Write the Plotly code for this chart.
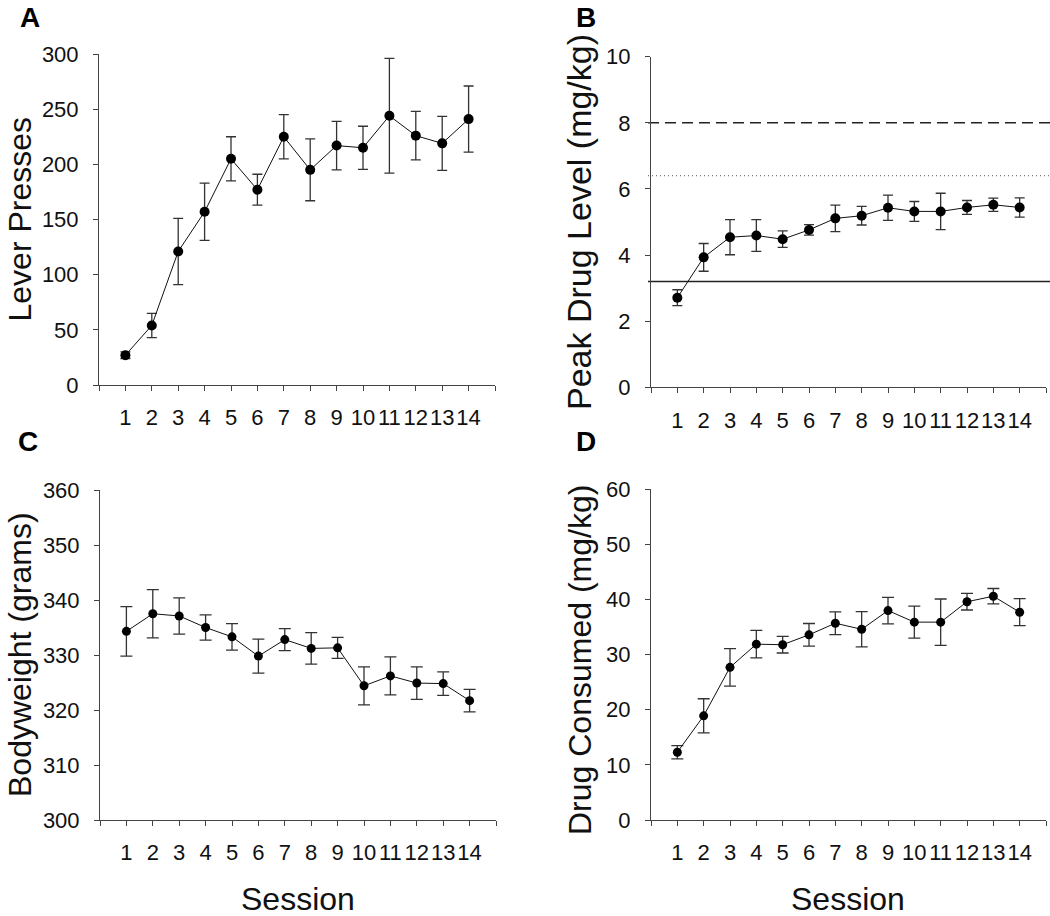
import plotly.graph_objects as go

sessions = list(range(1, 15))
tick_labels = [str(s) for s in sessions]

lever_presses = [27, 54, 121, 157, 205, 177, 225, 195, 217, 215, 244, 226, 219, 241]
lever_err = [3, 11, 30, 26, 20, 14, 20, 28, 22, 19.5, 52, 22, 24.5, 30]

peak_drug = [2.71, 3.93, 4.54, 4.59, 4.48, 4.76, 5.11, 5.19, 5.43, 5.32, 5.32, 5.44, 5.52, 5.44]
peak_err = [0.24, 0.42, 0.53, 0.48, 0.25, 0.16, 0.40, 0.28, 0.38, 0.30, 0.55, 0.21, 0.20, 0.29]
ref_dashed = 8.0
ref_dotted = 6.4
ref_solid = 3.2

bodyweight = [334.3, 337.5, 337.1, 335.0, 333.3, 329.8, 332.8, 331.2, 331.3, 324.4, 326.2, 324.9, 324.8, 321.7]
body_err = [4.5, 4.4, 3.3, 2.3, 2.4, 3.1, 2.0, 2.85, 1.9, 3.45, 3.45, 2.95, 2.15, 2.05]

drug_consumed = [12.3, 18.9, 27.7, 31.9, 31.8, 33.6, 35.7, 34.6, 38.0, 35.9, 35.9, 39.6, 40.6, 37.7]
drug_err = [1.2, 3.1, 3.4, 2.5, 1.5, 2.05, 2.05, 3.2, 2.4, 2.9, 4.2, 1.5, 1.4, 2.45]

W, H = 1050, 916
TICKFONT = dict(family="Liberation Sans Narrow, Arial Narrow, Liberation Sans, Arial", size=22, color="#111")
TITLEFONT = dict(family="Liberation Sans, Arial", size=32, color="#111")
AXCOL = "#444"

def px_x(p):
    return p / W

def px_y(p):
    return 1 - p / H

panels = [
    ("x", "y", (99, 495), (54, 385), [0, 300], 50, lever_presses, lever_err, 10, 5),
    ("x2", "y2", (651, 1046), (56.7, 387.3), [0, 10], 2, peak_drug, peak_err, 10, 5),
    ("x3", "y3", (100, 496), (490, 820), [300, 360], 10, bodyweight, body_err, 9, 6),
    ("x4", "y4", (651, 1046), (489.3, 820), [0, 60], 10, drug_consumed, drug_err, 9, 6),
]

fig = go.Figure()
layout = dict(
    width=W, height=H,
    margin=dict(l=0, r=0, t=0, b=0, autoexpand=False),
    paper_bgcolor="white", plot_bgcolor="white",
    showlegend=False,
)

for xa, ya, xp, yp, yr, dt, yv, ev, msize, capw in panels:
    fig.add_trace(go.Scatter(
        x=sessions, y=yv, xaxis=xa, yaxis=ya,
        mode="lines+markers",
        line=dict(color="#111", width=1),
        marker=dict(color="black", size=msize, symbol="circle"),
        error_y=dict(type="data", array=ev, visible=True, color="#333",
                     thickness=1.3, width=capw),
        cliponaxis=False,
    ))
    xkey = "xaxis" + xa[1:]
    ykey = "yaxis" + ya[1:]
    layout[xkey] = dict(
        domain=[px_x(xp[0]), px_x(xp[1])],
        anchor=ya,
        range=[0, 15],
        tickmode="array",
        tickvals=list(range(0, 16)),
        ticktext=[""] + tick_labels + [""],
        tickangle=0,
        ticks="outside", ticklen=5, tickwidth=1, tickcolor=AXCOL,
        showline=True, linecolor=AXCOL, linewidth=1,
        showgrid=False, zeroline=False,
        tickfont=TICKFONT,
        ticklabelstandoff=8,
        automargin=False,
        fixedrange=True,
    )
    layout[ykey] = dict(
        domain=[px_y(yp[1]), px_y(yp[0])],
        anchor=xa,
        range=yr,
        tickmode="linear", tick0=yr[0], dtick=dt,
        ticks="outside", ticklen=5, tickwidth=1, tickcolor=AXCOL,
        showline=True, linecolor=AXCOL, linewidth=1,
        showgrid=False, zeroline=False,
        tickfont=TICKFONT,
        ticklabelstandoff=10,
        automargin=False,
        fixedrange=True,
    )

fig.update_layout(**layout)

# Reference lines in panel B
for val, dash, col, wd in [(ref_dashed, "11px,6px", "#222", 1.5),
                           (ref_dotted, "1px,3px", "#777", 1.2),
                           (ref_solid, "solid", "#222", 1.6)]:
    fig.add_shape(type="line", xref="paper", yref="y2",
                  x0=px_x(648), x1=1.0, y0=val, y1=val,
                  line=dict(color=col, width=wd, dash=dash), layer="below")

# Axis titles (y)
ytitles = [
    ("Lever Presses", 19, 219.5, 32),
    ("Peak Drug Level (mg/kg)", 579, 222, 34),
    ("Bodyweight (grams)", 20, 655, 32),
    ("Drug Consumed (mg/kg)", 580, 660, 32),
]
for txt, cx, cy, fs in ytitles:
    fig.add_annotation(text=txt, xref="paper", yref="paper",
                       x=px_x(cx), y=px_y(cy), showarrow=False,
                       textangle=-90, xanchor="center", yanchor="middle",
                       font=dict(family="Liberation Sans, Arial", size=fs, color="#111"))

# X titles
for cx in (298, 848):
    fig.add_annotation(text="Session", xref="paper", yref="paper",
                       x=px_x(cx), y=px_y(899), showarrow=False,
                       xanchor="center", yanchor="middle", font=TITLEFONT)

# Panel letters
for letter, cx, cy in [("A", 30, 18), ("B", 586, 18), ("C", 28, 442), ("D", 586, 442)]:
    fig.add_annotation(text="<b>%s</b>" % letter, xref="paper", yref="paper",
                       x=px_x(cx), y=px_y(cy), showarrow=False,
                       xanchor="center", yanchor="middle",
                       font=dict(family="Liberation Sans, Arial", size=28, color="black"))

fig.write_html("out.html", config={"displayModeBar": False},
               post_script="document.body.style.margin='0px';document.body.style.padding='0px';")
